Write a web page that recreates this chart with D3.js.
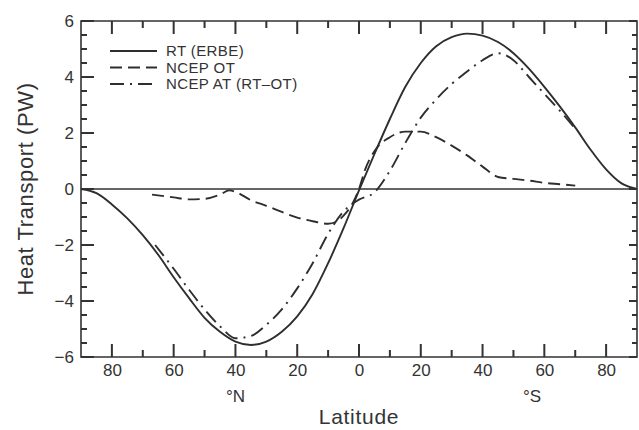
<!DOCTYPE html>
<meta charset="utf-8">
<style>
    body { margin: 0; background: #fff; }
    svg { font-family: "Liberation Sans", Arial, sans-serif; }
    .axis path { display: none; }
    .axis text { fill: #333; font-size: 17px; font-family: "Liberation Sans", Arial, sans-serif; }
    .curve { fill: none; stroke: #2e2e2e; stroke-width: 1.9; }
</style>
<svg width="639" height="430"></svg>
<script src="https://cdn.jsdelivr.net/npm/d3@7"></script>
<script>

    // latitude: positive = N, negative = S
    var rtLat = [90, 85, 80, 75, 70, 65, 60, 55, 50, 45, 40, 35, 30, 25, 20, 15, 10, 5, 0,
                 -5, -10, -15, -20, -25, -30, -35, -40, -45, -50, -55, -60, -65, -70, -75, -80, -85, -90];
    var rtVal = [0, -0.15, -0.55, -1.05, -1.65, -2.35, -3.15, -3.9, -4.6, -5.1, -5.45, -5.57, -5.45, -5.1, -4.55, -3.75, -2.65, -1.4, -0.05,
                 1.25, 2.5, 3.65, 4.5, 5.1, 5.42, 5.55, 5.48, 5.25, 4.85, 4.3, 3.65, 2.95, 2.2, 1.4, 0.7, 0.2, 0];

    var otLat = [67, 60, 55, 50, 45, 42, 40, 35, 30, 25, 20, 15, 10, 7, 5, 2, 0,
                 -2, -5, -10, -15, -20, -25, -30, -35, -40, -45, -50, -55, -60, -65, -70];
    var otVal = [-0.2, -0.3, -0.37, -0.35, -0.2, -0.05, -0.1, -0.4, -0.6, -0.82, -1.02, -1.15, -1.24, -1.15, -0.95, -0.5, 0,
                 0.7, 1.35, 1.85, 2.05, 2.05, 1.85, 1.55, 1.2, 0.8, 0.43, 0.36, 0.3, 0.22, 0.17, 0.12];

    var atLat = [66, 60, 55, 50, 45, 40, 35, 30, 25, 20, 15, 10, 5, 0,
                 -5, -10, -15, -20, -25, -30, -35, -40, -45, -50, -55, -60, -65, -70];
    var atVal = [-2.0, -2.85, -3.6, -4.3, -4.9, -5.33, -5.25, -4.85, -4.3, -3.55, -2.65, -1.6, -0.8, -0.38,
                 -0.12, 0.65, 1.65, 2.55, 3.2, 3.75, 4.2, 4.6, 4.85, 4.6, 4.0, 3.4, 2.8, 2.15];

    var seriesNames = ["RT (ERBE)", "NCEP OT", "NCEP AT (RT\u2013OT)"];
    var dashes = [null, "12,6", "14,6,2,6"];

    var xMajor = [80, 60, 40, 20, 0, -20, -40, -60, -80];
    var xMinor = [70, 50, 30, 10, -10, -30, -50, -70];
    var yMajor = [-6, -4, -2, 0, 2, 4, 6];
    var yMinor = [-5.5, -5, -4.5, -3.5, -3, -2.5, -1.5, -1, -0.5, 0.5, 1, 1.5, 2.5, 3, 3.5, 4.5, 5, 5.5];

    var svg = d3.select("svg"),
        margin = {top: 21, right: 2, bottom: 73, left: 81},
        width = +svg.attr("width") - margin.left - margin.right,
        height = +svg.attr("height") - margin.top - margin.bottom;

    var g = svg.append("g")
        .attr("transform", "translate(" + margin.left + "," + margin.top + ")");

    var x = d3.scaleLinear().domain([90, -90]).range([0, width]),
        y = d3.scaleLinear().domain([-6, 6]).range([height, 0]);

    var tickColor = "#333";

    // frame
    g.append("path")
        .attr("d", "M0,0H" + width + "V" + height + "H0Z")
        .style("fill", "none")
        .attr("stroke", tickColor).attr("stroke-width", 1.6);

    // tick labels
    g.append("g").attr("class", "axis")
        .attr("transform", "translate(0," + height + ")")
        .call(d3.axisBottom(x).tickValues(xMajor).tickSize(0).tickPadding(7)
            .tickFormat(function(d) { return Math.abs(d); }));
    g.append("g").attr("class", "axis")
        .call(d3.axisLeft(y).tickValues(yMajor).tickSize(0).tickPadding(7));

    // inward tick marks on all four sides, as thin filled bars
    var tw = 2;
    var tickG = g.append("g").attr("fill", tickColor);
    function xTicks(vals, len) {
        tickG.selectAll(null).data(vals).enter().append("rect")
            .attr("x", function(d) { return x(d) - tw / 2; })
            .attr("y", height - len).attr("width", tw).attr("height", len);
        tickG.selectAll(null).data(vals).enter().append("rect")
            .attr("x", function(d) { return x(d) - tw / 2; })
            .attr("y", 0).attr("width", tw).attr("height", len);
    }
    function yTicks(vals, lenL, lenR) {
        tickG.selectAll(null).data(vals).enter().append("rect")
            .attr("x", 0).attr("y", function(d) { return y(d) - tw / 2; })
            .attr("width", lenL).attr("height", tw);
        tickG.selectAll(null).data(vals).enter().append("rect")
            .attr("x", width - lenR).attr("y", function(d) { return y(d) - tw / 2; })
            .attr("width", lenR).attr("height", tw);
    }
    xTicks(xMinor, 7);
    xTicks(xMajor, 13);
    yTicks(yMinor, 6, 5);
    yTicks(yMajor, 13, 8);

    // zero line
    g.append("line")
        .attr("x1", 0).attr("x2", width)
        .attr("y1", y(0)).attr("y2", y(0))
        .attr("stroke", tickColor).attr("stroke-width", 1.3);

    var line = d3.line()
        .x(function(d) { return x(d[0]); })
        .y(function(d) { return y(d[1]); })
        .curve(d3.curveMonotoneX);

    var series = [d3.zip(rtLat, rtVal), d3.zip(otLat, otVal), d3.zip(atLat, atVal)];

    g.selectAll(".curve")
        .data(series)
        .enter().append("path")
        .attr("class", "curve")
        .attr("stroke-dasharray", function(d, i) { return dashes[i]; })
        .attr("d", line);

    // legend
    var legend = g.selectAll(".legend")
        .data(seriesNames)
        .enter().append("g")
        .attr("class", "legend")
        .attr("transform", function(d, i) { return "translate(29," + (30 + i * 16.5) + ")"; });

    legend.append("line")
        .attr("x1", 0).attr("x2", 47)
        .attr("stroke", "#2e2e2e").attr("stroke-width", 1.9)
        .attr("stroke-dasharray", function(d, i) { return dashes[i]; });

    legend.append("text")
        .attr("x", 56).attr("dy", "0.36em")
        .attr("fill", "#333")
        .style("font-size", "15px")
        .style("letter-spacing", "0.4px")
        .text(function(d) { return d; });

    // axis titles
    svg.append("text")
        .attr("transform", "translate(33," + (margin.top + y(0)) + ") rotate(-90)")
        .attr("text-anchor", "middle")
        .attr("fill", "#333")
        .style("font-size", "22px")
        .style("letter-spacing", "0.6px")
        .text("Heat Transport (PW)");

    svg.append("text")
        .attr("x", margin.left + x(0)).attr("y", 424)
        .attr("text-anchor", "middle")
        .attr("fill", "#333")
        .style("font-size", "21px")
        .style("letter-spacing", "0.7px")
        .text("Latitude");

    svg.append("text")
        .attr("x", margin.left + x(40)).attr("y", 402)
        .attr("text-anchor", "middle")
        .attr("fill", "#333")
        .style("font-size", "17px")
        .text("\u00b0N");

    svg.append("text")
        .attr("x", margin.left + x(-56)).attr("y", 402)
        .attr("text-anchor", "middle")
        .attr("fill", "#333")
        .style("font-size", "17px")
        .text("\u00b0S");
</script>
